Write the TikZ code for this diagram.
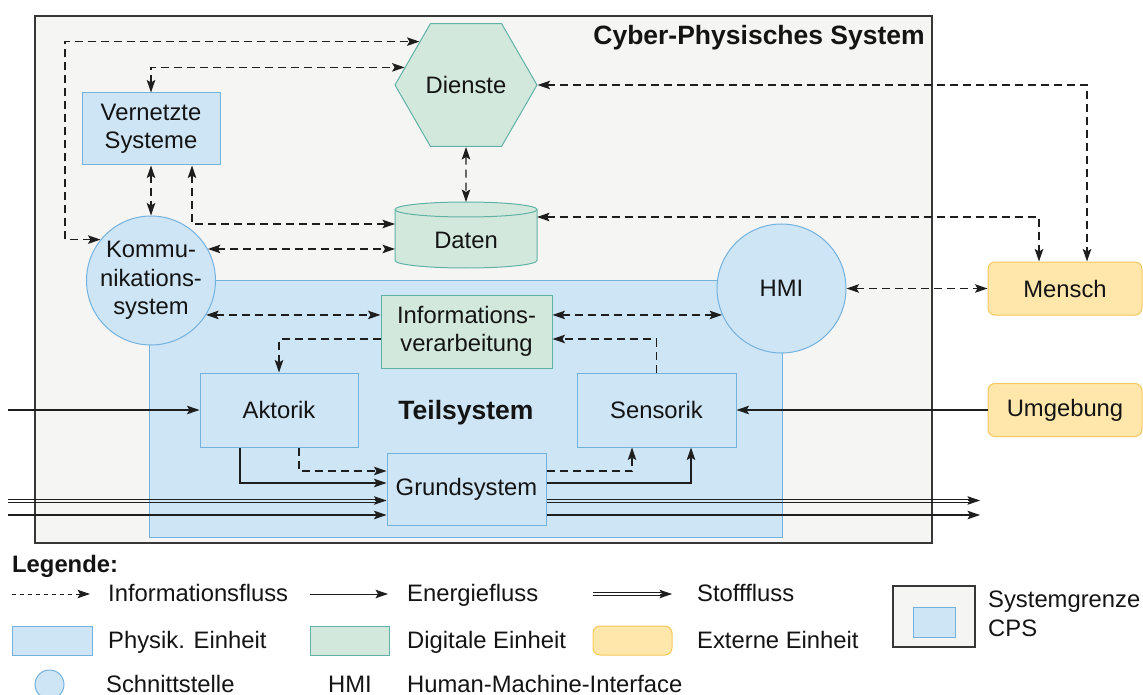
\documentclass[tikz,border=0pt]{standalone}
\usepackage{fontspec}
\setmainfont{Liberation Sans}
\usetikzlibrary{arrows.meta,shapes.geometric,calc}

\definecolor{cpsfill}{RGB}{245,245,244}
\definecolor{cpsdraw}{RGB}{55,55,55}
\definecolor{physfill}{RGB}{206,229,245}
\definecolor{physdraw}{RGB}{116,178,222}
\definecolor{digifill}{RGB}{211,232,220}
\definecolor{digidraw}{RGB}{96,178,164}
\definecolor{extfill}{RGB}{255,231,172}
\definecolor{extdraw}{RGB}{247,200,92}
\definecolor{linec}{RGB}{30,30,30}
\definecolor{textc}{RGB}{20,20,20}

\newcommand\lbltext{\fontsize{23.8pt}{28.5pt}\selectfont}
\newcommand\lblbold{\fontsize{23.8pt}{28.5pt}\selectfont\bfseries}
\newcommand\hdtext{\fontsize{26.5pt}{30pt}\selectfont\bfseries}

\tikzset{
  ahead/.tip={Stealth[length=12.5pt,width=8.5pt,inset=2.5pt]},
  cps/.style={draw=cpsdraw, fill=cpsfill, line width=1.4pt},
  phys/.style={draw=physdraw, fill=physfill, line width=1pt},
  digi/.style={draw=digidraw, fill=digifill, line width=1pt},
  ext/.style={draw=extdraw, fill=extfill, line width=1pt, rounded corners=7pt},
  info/.style={draw=linec, line width=1.2pt, dash pattern=on 8pt off 5pt},
  infol/.style={info, line width=0.9pt, dash pattern=on 4pt off 4pt},
  bi/.style={ahead-ahead},
  fw/.style={-ahead},
  energy/.style={draw=linec, line width=1.2pt, -ahead},
  stoffline/.style={draw=linec, line width=0.8pt},
}

\begin{document}
\begin{tikzpicture}[x=1pt, y=-1pt,
  every node/.style={font=\lbltext, text=textc, inner sep=0pt}]
\useasboundingbox (0,0) rectangle (1143,695);
\fill[white] (0,0) rectangle (1143,695);

% system boundary of the CPS
\node[cps, minimum width=897pt, minimum height=527pt] (cps) at (483.5,279.5) {};
\node[font=\hdtext, anchor=base east] (cpstitle) at (925,44.5) {Cyber-Physisches System};

% subsystem
\node[phys, minimum width=633pt, minimum height=257pt] (ts) at (465.5,408.5) {};
\node[font=\hdtext, anchor=base] (tstitle) at (466,419.3) {Teilsystem};

% units
\node[phys, minimum width=138pt, minimum height=72pt, align=center] (vs) at (151,129) {Vernetzte\\Systeme};
\node[phys, circle, minimum size=129pt, align=center] (kom) at (151,280.5) {Kommu-\\nikations-\\system};
\node[phys, circle, minimum size=129pt] (hmi) at (781.5,288.5) {HMI};
\node[digi, regular polygon, regular polygon sides=6, minimum size=142pt] (dien) at (466,85) {Dienste};

% data store (cylinder)
\node[minimum width=142pt, minimum height=66pt, outer sep=0pt] (dat) at (466,235) {};
\path[digi] ([yshift=-7.5pt]dat.north west) -- ([yshift=7.5pt]dat.south west)
  arc[start angle=180, end angle=360, x radius=71pt, y radius=7.5pt]
  -- ([yshift=-7.5pt]dat.north east)
  arc[start angle=0, end angle=180, x radius=71pt, y radius=7.5pt] -- cycle;
\draw[draw=digidraw, line width=1pt] ([yshift=-7.5pt]dat.north west)
  arc[start angle=180, end angle=360, x radius=71pt, y radius=7.5pt];
\node (dattxt) at ([yshift=-5pt]dat.center) {Daten};

\node[digi, minimum width=171pt, minimum height=73pt, align=center] (iv) at (466.5,331.5) {Informations-\\verarbeitung};
\node[phys, minimum width=158pt, minimum height=74pt] (akt) at (279,410) {Aktorik};
\node[phys, minimum width=159pt, minimum height=74pt] (sen) at (656.5,410) {Sensorik};
\node[phys, minimum width=159pt, minimum height=72pt] (gs) at (466.5,489) {Grundsystem};
\node[ext, minimum width=154pt, minimum height=53pt] (mensch) at (1065,288.5) {Mensch};
\node[ext, minimum width=154pt, minimum height=53pt] (umg) at (1065,410) {Umgebung};

% information flows
\coordinate (loopA) at (65,42);
\draw[info, bi] (kom.141) -| (loopA) |- (dien.137);
\draw[info, bi] (vs.north) |- (dien.164);
\draw[info, bi] (vs.south) -- (kom.north);
\draw[info, bi] ([xshift=41pt]vs.south) |- ([yshift=11pt]dat.west);
\draw[info, bi] (kom.29) -- (kom.29 -| dat.west);
\draw[info, bi] (dien.south) -- (dat.north);
\draw[info, bi] (kom.-32) -- (kom.-32 -| iv.west);
\draw[info, bi] (hmi.204 -| iv.east) -- (hmi.204);
\draw[info, fw] (sen.north) |- ([yshift=-7.5pt]iv.east);
\draw[info, fw] ([yshift=-7.5pt]iv.west) -| (akt.north);
\draw[info, fw] ([xshift=20pt]akt.south) |- ([yshift=18pt]gs.west);
\draw[info, fw] ([yshift=18pt]gs.east) -| ([xshift=-24.5pt]sen.south);
\draw[info, bi] (hmi.east) -- (mensch.west);
\draw[info, bi] (dien.east) -| ([xshift=22pt]mensch.north);
\draw[info, bi] ([yshift=18pt]dat.east) -| ([xshift=-26pt]mensch.north);

% energy flows
\coordinate (inA) at (8,410);
\draw[energy] (inA) -- (akt.west);
\draw[energy] (umg.west) -- (sen.east);
\draw[energy] ([xshift=-39pt]akt.south) |- ([yshift=6pt]gs.west);
\draw[energy] ([yshift=6pt]gs.east) -| ([xshift=34.5pt]sen.south);
\coordinate (inE) at (8,515);
\coordinate (outE) at (980,515);
\draw[energy] (inE) -- (inE -| gs.west);
\draw[energy] (outE -| gs.east) -- (outE);

% material flows
\coordinate (inS) at (8,500.5);
\coordinate (inSend) at (inS -| gs.west);
\draw[stoffline] ([yshift=1.4pt]inS) -- ([yshift=1.4pt,xshift=-9pt]inSend);
\draw[stoffline] ([yshift=-1.4pt]inS) -- ([yshift=-1.4pt,xshift=-9pt]inSend);
\draw[stoffline, -ahead] ([xshift=-12pt]inSend) -- (inSend);
\coordinate (outS) at (980,500.5);
\coordinate (outSbeg) at (outS -| gs.east);
\draw[stoffline] ([yshift=1.4pt]outSbeg) -- ([yshift=1.4pt,xshift=-9pt]outS);
\draw[stoffline] ([yshift=-1.4pt]outSbeg) -- ([yshift=-1.4pt,xshift=-9pt]outS);
\draw[stoffline, -ahead] ([xshift=-12pt]outS) -- (outS);

% legend
\node[font=\lblbold, anchor=base west] (leg) at (12,572) {Legende:};
\coordinate (li1) at (12,594); \coordinate (li2) at (90,594);
\draw[infol, fw] (li1) -- (li2);
\node[anchor=base west] (lt1) at (108,601.7) {Informationsfluss};
\coordinate (le1) at (310,594); \coordinate (le2) at (388,594);
\draw[energy, line width=1pt] (le1) -- (le2);
\node[anchor=base west] (lt2) at (407,601.7) {Energiefluss};
\coordinate (ls1) at (593,594); \coordinate (ls2) at (672,594);
\draw[stoffline] ([yshift=1.4pt]ls1) -- ([yshift=1.4pt,xshift=-9pt]ls2);
\draw[stoffline] ([yshift=-1.4pt]ls1) -- ([yshift=-1.4pt,xshift=-9pt]ls2);
\draw[stoffline, -ahead] ([xshift=-12pt]ls2) -- (ls2);
\node[anchor=base west] (lt3) at (697,601.7) {Stofffluss};

\node[phys, minimum width=80pt, minimum height=29pt] (lphys) at (52,640.5) {};
\node[anchor=base west] (lt4) at (108,648) {Physik. Einheit};
\node[digi, minimum width=79pt, minimum height=29pt] (ldigi) at (349.5,640.5) {};
\node[anchor=base west] (lt5) at (407,648) {Digitale Einheit};
\node[ext, minimum width=79pt, minimum height=29pt] (lext) at (632.5,640.5) {};
\node[anchor=base west] (lt6) at (697,648) {Externe Einheit};

\node[phys, circle, minimum size=29pt] (lif) at (49.5,684.5) {};
\node[anchor=base west] (lt7) at (106,692.5) {Schnittstelle};
\node[anchor=base west] (lt8) at (328,692.5) {HMI};
\node[anchor=base west] (lt9) at (407,692.5) {Human-Machine-Interface};

\node[cps, minimum width=82pt, minimum height=61pt] (lsg) at (934,616.5) {};
\node[phys, minimum width=42pt, minimum height=30pt] (lsgi) at (934,622) {};
\node[anchor=base west] (lt10) at (988,607) {Systemgrenze};
\node[anchor=base west] (lt11) at (988,636.7) {CPS};
\end{tikzpicture}
\end{document}
